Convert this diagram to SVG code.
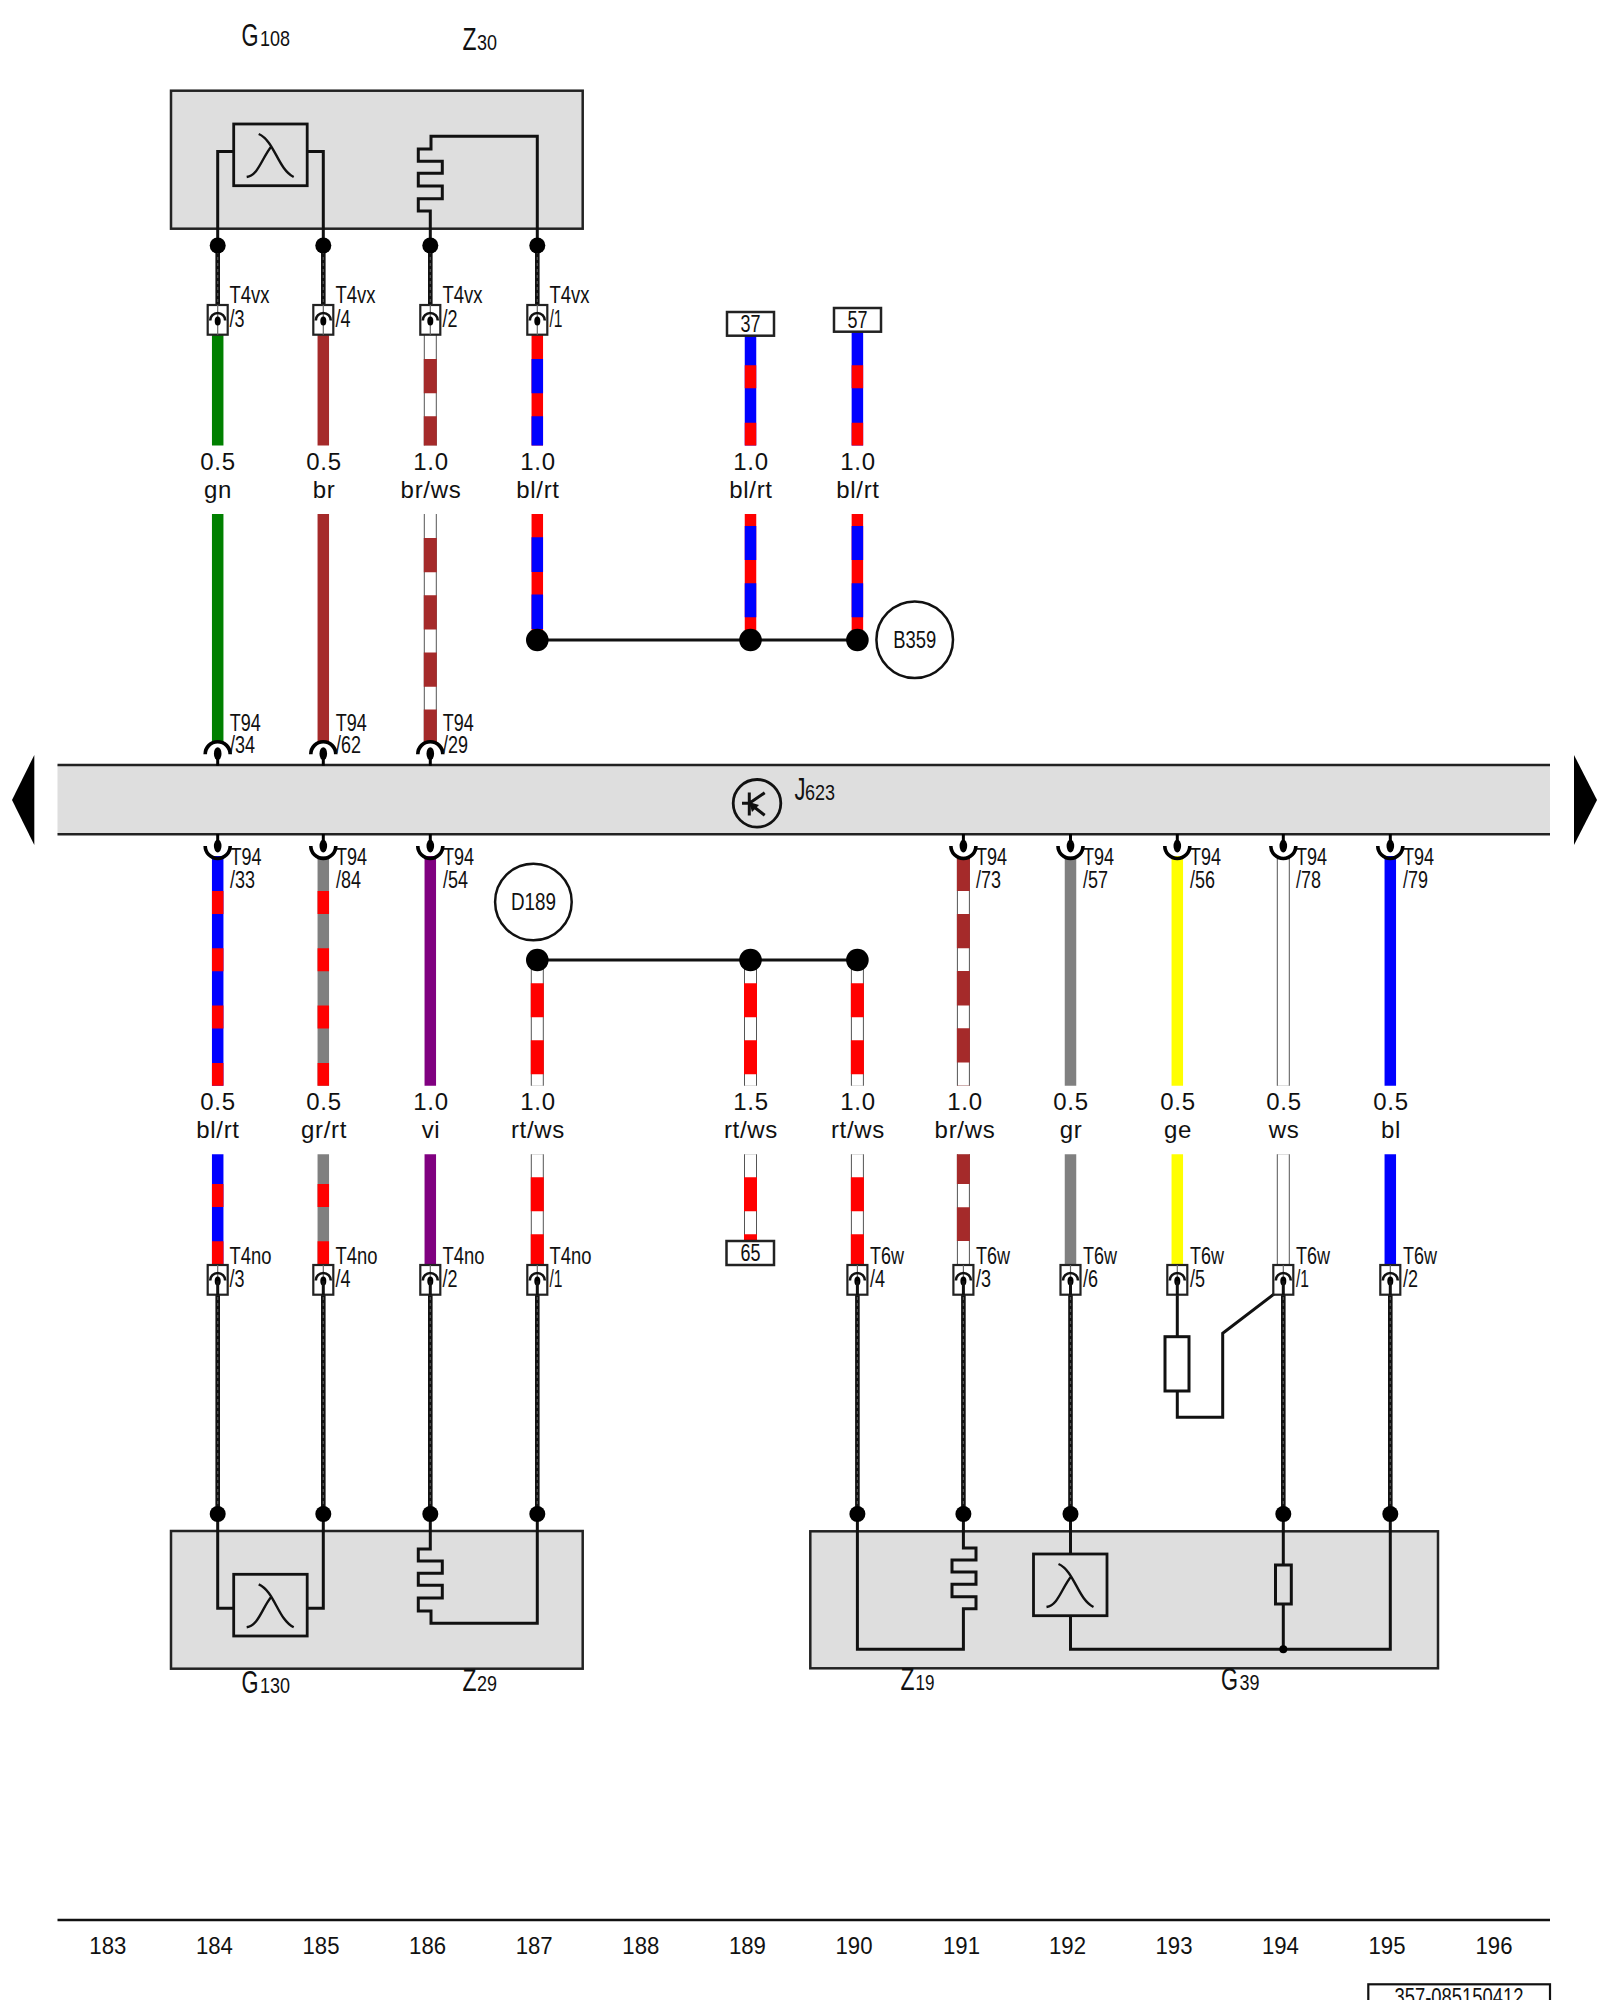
<svg xmlns="http://www.w3.org/2000/svg" xmlns:xlink="http://www.w3.org/1999/xlink" width="1600" height="2000" viewBox="0 0 1600 2000">
<style>
text{font-family:"Liberation Sans",Arial,sans-serif;fill:#111}
.c{text-anchor:middle}
.g{font-size:24px;letter-spacing:.7px}
.p{font-size:23px}
.n{font-size:23.5px}
.big{font-size:31px}
.sm{font-size:22px}
.box{fill:#dedede;stroke:#222;stroke-width:2.5}
.ln{fill:none;stroke:#111;stroke-width:3}
.tw{fill:none;stroke:#111;stroke-width:4.6}
.twx{fill:none;stroke:#555;stroke-width:1.2;stroke-dasharray:3 3}
.dot{fill:#000}
.w{fill:none;stroke-width:11.5}
.bd{fill:none;stroke:#555;stroke-width:13}
.wh{fill:none;stroke:#fff;stroke-width:11}
.wb{fill:none;stroke-width:13}
.r{stroke:#f00}.b{stroke:#00f}.gn{stroke:#008000}.br{stroke:#a52a2a}.gy{stroke:#808080}.vi{stroke:#800080}.ye{stroke:#ff0}
.lab{fill:#fff;stroke:#222;stroke-width:2.5}
.ring{fill:#fff;stroke:#111;stroke-width:2.5}
</style>
<defs>
<g id="conn">
<rect x="-10" y="0" width="20" height="29.7" fill="#fff" stroke="#222" stroke-width="2.2"/>
<path d="M0 0V29.7" stroke="#666" stroke-width="1.2" fill="none"/>
<path d="M-7.5 15.5A7.5 7.5 0 0 1 7.5 15.5" fill="none" stroke="#111" stroke-width="2.6"/>
<ellipse cx="0" cy="16" rx="3" ry="4.5" fill="#000"/>
</g>
<g id="sockTop">
<path d="M-12.5 12.5A12.5 12.5 0 0 1 12.5 12.5" fill="none" stroke="#000" stroke-width="3.6"/>
<ellipse cx="0" cy="12" rx="3.8" ry="6.5" fill="#000"/>
<path d="M0 14V24" stroke="#000" stroke-width="3"/>
</g>
<g id="sockBot">
<path d="M-12.5 -11A12.5 12.5 0 0 0 12.5 -11" fill="none" stroke="#000" stroke-width="3.6"/>
<ellipse cx="0" cy="-11" rx="3.8" ry="6.5" fill="#000"/>
<path d="M0 -14V-23" stroke="#000" stroke-width="3"/>
</g>
<g id="lambda">
<rect x="0" y="0" width="73.5" height="61.7" fill="none" stroke="#111" stroke-width="2.8"/>
<path d="M25 10C41 17 44 45 60 53M13 53C25 51 28 34 38 22" fill="none" stroke="#111" stroke-width="2.4"/>
</g>
</defs>

<rect width="1600" height="2000" fill="#fff"/>

<g id="connectors">
<path class="w gn" d="M217.7 334V445.6"/>
<path class="w br" d="M323.3 334V445.6"/>
<path class="bd" d="M430.3 334V445.6"/><path class="wh" d="M430.3 334V445.6"/><path class="wb br" stroke-dasharray="34.3 22.9" d="M430.3 359V445.6"/>
<path class="w r" d="M537.3 334V445.6"/><path class="w b" stroke-dasharray="34.3 22.9" d="M537.3 359V445.6"/>
<path class="w b" d="M750.5 335V445.6"/><path class="w r" stroke-dasharray="23 34.4" d="M750.5 365.3V445.6"/>
<path class="w b" d="M857.4 331V445.6"/><path class="w r" stroke-dasharray="23 34.4" d="M857.4 365.3V445.6"/>
<path class="w gn" d="M217.7 514V742"/>
<path class="w br" d="M323.3 514V742"/>
<path class="bd" d="M430.3 514V742"/><path class="wh" d="M430.3 514V742"/><path class="wb br" stroke-dasharray="34.3 22.9" d="M430.3 538V742"/>
<path class="w r" d="M537.3 514V640"/><path class="w b" stroke-dasharray="34.7 22.4" d="M537.3 537.3V640"/>
<path class="w r" d="M750.5 514V640"/><path class="w b" stroke-dasharray="34 23.3" d="M750.5 526V630"/>
<path class="w r" d="M857.4 514V640"/><path class="w b" stroke-dasharray="34 23.3" d="M857.4 526V630"/>
<path class="ln" d="M537.3 640H857.4"/>
<path class="w b" d="M217.7 856V1085.7"/><path class="w r" stroke-dasharray="23 34.3" d="M217.7 891V1085.7"/>
<path class="w gy" d="M323.3 856V1085.7"/><path class="w r" stroke-dasharray="23 34.3" d="M323.3 891V1085.7"/>
<path class="w vi" d="M430.3 856V1085.7"/>
<path class="bd" d="M537.3 960V1085.7"/><path class="wh" d="M537.3 960V1085.7"/><path class="wb r" stroke-dasharray="34 23" d="M537.3 983.3V1085.7"/>
<path class="bd" d="M750.5 960V1085.7"/><path class="wh" d="M750.5 960V1085.7"/><path class="wb r" stroke-dasharray="34 23" d="M750.5 983.3V1085.7"/>
<path class="bd" d="M857.4 960V1085.7"/><path class="wh" d="M857.4 960V1085.7"/><path class="wb r" stroke-dasharray="34 23" d="M857.4 983.3V1085.7"/>
<path class="bd" d="M963.4 856V1085.7"/><path class="wh" d="M963.4 856V1085.7"/><path class="wb br" stroke-dasharray="34.3 22.9" d="M963.4 856.7V1085.7"/>
<path class="w gy" d="M1070.5 856V1085.7"/>
<path class="w ye" d="M1177.3 856V1085.7"/>
<path class="bd" d="M1283.3 856V1085.7"/><path class="wh" d="M1283.3 856V1085.7"/>
<path class="w b" d="M1390.3 856V1085.7"/>
<path class="ln" d="M537.3 960H857.4"/>
<path class="w b" d="M217.7 1154.3V1265"/><path class="w r" stroke-dasharray="23 34.3" d="M217.7 1184V1265"/>
<path class="w gy" d="M323.3 1154.3V1265"/><path class="w r" stroke-dasharray="23 34.3" d="M323.3 1184V1265"/>
<path class="w vi" d="M430.3 1154.3V1265"/>
<path class="bd" d="M537.3 1154.3V1265"/><path class="wh" d="M537.3 1154.3V1265"/><path class="wb r" stroke-dasharray="34 23" d="M537.3 1177.3V1265"/>
<path class="bd" d="M750.5 1154.3V1241"/><path class="wh" d="M750.5 1154.3V1241"/><path class="wb r" stroke-dasharray="34 23" d="M750.5 1177.3V1241"/>
<path class="bd" d="M857.4 1154.3V1265"/><path class="wh" d="M857.4 1154.3V1265"/><path class="wb r" stroke-dasharray="34 23" d="M857.4 1177.3V1265"/>
<path class="bd" d="M963.4 1154.3V1265"/><path class="wh" d="M963.4 1154.3V1265"/><path class="wb br" stroke-dasharray="29.7 23.3 33.7 100" d="M963.4 1154.3V1265"/>
<path class="w gy" d="M1070.5 1154.3V1265"/>
<path class="w ye" d="M1177.3 1154.3V1265"/>
<path class="bd" d="M1283.3 1154.3V1265"/><path class="wh" d="M1283.3 1154.3V1265"/>
<path class="w b" d="M1390.3 1154.3V1265"/>
<path class="tw" d="M217.7 245V314M323.3 245V314M430.3 245V314M537.3 245V314"/>
<path class="twx" d="M217.7 245V305M323.3 245V305M430.3 245V305M537.3 245V305"/>
<path class="tw" d="M217.7 1285V1514M323.3 1285V1514M430.3 1285V1514M537.3 1285V1514M857.4 1285V1514M963.4 1285V1514M1070.5 1285V1514M1283.3 1285V1514M1390.3 1285V1514"/>
<path class="twx" d="M217.7 1297V1505M323.3 1297V1505M430.3 1297V1505M537.3 1297V1505M857.4 1297V1505M963.4 1297V1505M1070.5 1297V1505M1283.3 1297V1505M1390.3 1297V1505"/>
<path class="ln" d="M1177.3 1285V1336.7M1177.3 1391V1417.3H1222.7V1333.3L1275.7 1292.7"/>
</g>

<g id="arrow-left"><path d="M34.3 755L12 800L34.3 845Z" fill="#000"/></g>
<g id="arrow-right"><path d="M1574 755L1597 800L1574 845Z" fill="#000"/></g>

<g id="J623">
<rect x="57.5" y="765" width="1492.5" height="69.3" fill="#dedede" stroke="none"/>
<path d="M57.5 765H1550M57.5 834.3H1550" stroke="#222" stroke-width="2.5" fill="none"/>
<circle cx="757" cy="803.3" r="23.8" fill="none" stroke="#111" stroke-width="2.8"/>
<path d="M749.3 792.5V815.5M742 803.3H749.3L764.7 792.7M749.3 803.3L764.7 815.3" fill="none" stroke="#111" stroke-width="3"/>
<path d="M749 802L759 805L752 812Z" fill="#111"/>
<text x="794.5" y="800"><tspan class="big" x="794.5" textLength="11" lengthAdjust="spacingAndGlyphs">J</tspan><tspan class="sm" x="805" textLength="30" lengthAdjust="spacingAndGlyphs">623</tspan></text>
</g>

<g id="G108-Z30">
<rect class="box" x="171" y="90.7" width="411.7" height="138"/>
<use xlink:href="#lambda" href="#lambda" x="233.7" y="124"/>
<path class="ln" d="M233.7 151.5H217.7V245M308 151.5H323.3V245"/>
<path class="ln" d="M430.3 245V211H418.3V198.7H442.3V186H418.3V173.3H442.3V161.3H418.3V149H431V136.3H537.3V245"/>
<text x="241.5" y="45.5"><tspan class="big" x="241.5" textLength="17" lengthAdjust="spacingAndGlyphs">G</tspan><tspan class="sm" x="260" textLength="30" lengthAdjust="spacingAndGlyphs">108</tspan></text>
<text x="462.5" y="50"><tspan class="big" x="462.5" textLength="14" lengthAdjust="spacingAndGlyphs">Z</tspan><tspan class="sm" x="477" textLength="20" lengthAdjust="spacingAndGlyphs">30</tspan></text>
</g>

<g id="G130-Z29">
<rect class="box" x="171" y="1531" width="411.7" height="137.7"/>
<use xlink:href="#lambda" href="#lambda" x="233.7" y="1574.3"/>
<path class="ln" d="M217.7 1514V1608.3H233.7M323.3 1514V1608.3H308"/>
<path class="ln" d="M430.3 1514V1549H418.3V1561H442.3V1573.3H418.3V1585.3H442.3V1598H418.3V1611H431V1623.3H537.3V1514"/>
<text x="241.5" y="1693"><tspan class="big" x="241.5" textLength="17" lengthAdjust="spacingAndGlyphs">G</tspan><tspan class="sm" x="260" textLength="30" lengthAdjust="spacingAndGlyphs">130</tspan></text>
<text x="462.5" y="1690.5"><tspan class="big" x="462.5" textLength="14" lengthAdjust="spacingAndGlyphs">Z</tspan><tspan class="sm" x="477" textLength="20" lengthAdjust="spacingAndGlyphs">29</tspan></text>
</g>

<g id="Z19-G39">
<rect class="box" x="810.3" y="1531.3" width="627.7" height="137"/>
<use xlink:href="#lambda" href="#lambda" x="1033.5" y="1554"/>
<path class="ln" d="M857.4 1514V1649.3H963.4V1608.7H976V1596.7H952V1584.3H976V1572H952V1560H976V1548H963.4V1514"/>
<path class="ln" d="M1070.5 1514V1554M1070.5 1616V1649.3H1390.3V1514"/>
<path class="ln" d="M1283.3 1514V1565M1283.3 1604V1649.3"/>
<rect x="1275.5" y="1565" width="15.8" height="39" fill="none" stroke="#111" stroke-width="3"/>
<circle class="dot" cx="1283.3" cy="1649.3" r="4"/>
<text x="900.5" y="1690"><tspan class="big" x="900.5" textLength="14" lengthAdjust="spacingAndGlyphs">Z</tspan><tspan class="sm" x="915.5" textLength="19" lengthAdjust="spacingAndGlyphs">19</tspan></text>
<text x="1221" y="1690"><tspan class="big" x="1221" textLength="17" lengthAdjust="spacingAndGlyphs">G</tspan><tspan class="sm" x="1239.5" textLength="20" lengthAdjust="spacingAndGlyphs">39</tspan></text>
</g>

<g id="dots">
<circle class="dot" cx="217.7" cy="245.5" r="8"/><circle class="dot" cx="323.3" cy="245.5" r="8"/><circle class="dot" cx="430.3" cy="245.5" r="8"/><circle class="dot" cx="537.3" cy="245.5" r="8"/>
<circle class="dot" cx="217.7" cy="1514" r="8"/><circle class="dot" cx="323.3" cy="1514" r="8"/><circle class="dot" cx="430.3" cy="1514" r="8"/><circle class="dot" cx="537.3" cy="1514" r="8"/>
<circle class="dot" cx="857.4" cy="1514" r="8"/><circle class="dot" cx="963.4" cy="1514" r="8"/><circle class="dot" cx="1070.5" cy="1514" r="8"/><circle class="dot" cx="1283.3" cy="1514" r="8"/><circle class="dot" cx="1390.3" cy="1514" r="8"/>
<circle class="dot" cx="537.3" cy="640" r="11.3"/><circle class="dot" cx="750.5" cy="640" r="11.3"/><circle class="dot" cx="857.4" cy="640" r="11.3"/>
<circle class="dot" cx="537.3" cy="960" r="11.3"/><circle class="dot" cx="750.5" cy="960" r="11.3"/><circle class="dot" cx="857.4" cy="960" r="11.3"/>
</g>

<g id="B359"><circle class="ring" cx="914.7" cy="639.7" r="38.3"/><text class="p c" x="914.7" y="647.5" textLength="43" lengthAdjust="spacingAndGlyphs">B359</text></g>
<g id="D189"><circle class="ring" cx="533.4" cy="902" r="38.3"/><text class="p c" x="533.4" y="910" textLength="45" lengthAdjust="spacingAndGlyphs">D189</text></g>

<g id="tag-37"><rect class="lab" x="727" y="312" width="47" height="23.7"/><text class="p c" x="750.5" y="331.5" textLength="20" lengthAdjust="spacingAndGlyphs">37</text></g>
<g id="tag-57"><rect class="lab" x="834" y="308" width="47" height="23.7"/><text class="p c" x="857.5" y="327.5" textLength="20" lengthAdjust="spacingAndGlyphs">57</text></g>
<g id="tag-65"><rect class="lab" x="726.5" y="1241" width="47.5" height="24"/><text class="p c" x="750.5" y="1260.5" textLength="20" lengthAdjust="spacingAndGlyphs">65</text></g>

<g id="terminals-T4vx">
<use href="#conn" x="217.7" y="305"/><use href="#conn" x="323.3" y="305"/><use href="#conn" x="430.3" y="305"/><use href="#conn" x="537.3" y="305"/>
<g class="p">
<text x="229.5" y="303" textLength="40" lengthAdjust="spacingAndGlyphs">T4vx</text><text x="229.5" y="326.7" textLength="15" lengthAdjust="spacingAndGlyphs">/3</text>
<text x="335.5" y="303" textLength="40" lengthAdjust="spacingAndGlyphs">T4vx</text><text x="335.5" y="326.7" textLength="15" lengthAdjust="spacingAndGlyphs">/4</text>
<text x="442.5" y="303" textLength="40" lengthAdjust="spacingAndGlyphs">T4vx</text><text x="442.5" y="326.7" textLength="15" lengthAdjust="spacingAndGlyphs">/2</text>
<text x="549.5" y="303" textLength="40" lengthAdjust="spacingAndGlyphs">T4vx</text><text x="549.5" y="326.7" textLength="13" lengthAdjust="spacingAndGlyphs">/1</text>
</g>
</g>

<g id="terminals-T94-top">
<use href="#sockTop" x="217.7" y="741.7"/><use href="#sockTop" x="323.3" y="741.7"/><use href="#sockTop" x="430.3" y="741.7"/>
<g class="p">
<text x="229.7" y="730.7" textLength="31" lengthAdjust="spacingAndGlyphs">T94</text><text x="230" y="753.3" textLength="25" lengthAdjust="spacingAndGlyphs">/34</text>
<text x="335.7" y="730.7" textLength="31" lengthAdjust="spacingAndGlyphs">T94</text><text x="336" y="753.3" textLength="25" lengthAdjust="spacingAndGlyphs">/62</text>
<text x="442.7" y="730.7" textLength="31" lengthAdjust="spacingAndGlyphs">T94</text><text x="443" y="753.3" textLength="25" lengthAdjust="spacingAndGlyphs">/29</text>
</g>
</g>

<g id="terminals-T94-bottom">
<use href="#sockBot" x="217.7" y="857"/><use href="#sockBot" x="323.3" y="857"/><use href="#sockBot" x="430.3" y="857"/>
<use href="#sockBot" x="963.4" y="857"/><use href="#sockBot" x="1070.5" y="857"/><use href="#sockBot" x="1177.3" y="857"/><use href="#sockBot" x="1283.3" y="857"/><use href="#sockBot" x="1390.3" y="857"/>
<g class="p">
<text x="230.5" y="865" textLength="31" lengthAdjust="spacingAndGlyphs">T94</text><text x="230" y="887.5" textLength="25" lengthAdjust="spacingAndGlyphs">/33</text>
<text x="336" y="865" textLength="31" lengthAdjust="spacingAndGlyphs">T94</text><text x="336" y="887.5" textLength="25" lengthAdjust="spacingAndGlyphs">/84</text>
<text x="443" y="865" textLength="31" lengthAdjust="spacingAndGlyphs">T94</text><text x="443" y="887.5" textLength="25" lengthAdjust="spacingAndGlyphs">/54</text>
<text x="976" y="865" textLength="31" lengthAdjust="spacingAndGlyphs">T94</text><text x="976" y="887.5" textLength="25" lengthAdjust="spacingAndGlyphs">/73</text>
<text x="1083" y="865" textLength="31" lengthAdjust="spacingAndGlyphs">T94</text><text x="1083" y="887.5" textLength="25" lengthAdjust="spacingAndGlyphs">/57</text>
<text x="1190" y="865" textLength="31" lengthAdjust="spacingAndGlyphs">T94</text><text x="1190" y="887.5" textLength="25" lengthAdjust="spacingAndGlyphs">/56</text>
<text x="1296" y="865" textLength="31" lengthAdjust="spacingAndGlyphs">T94</text><text x="1296" y="887.5" textLength="25" lengthAdjust="spacingAndGlyphs">/78</text>
<text x="1403" y="865" textLength="31" lengthAdjust="spacingAndGlyphs">T94</text><text x="1403" y="887.5" textLength="25" lengthAdjust="spacingAndGlyphs">/79</text>
</g>
</g>

<g id="terminals-T4no-T6w">
<use href="#conn" x="217.7" y="1265"/><use href="#conn" x="323.3" y="1265"/><use href="#conn" x="430.3" y="1265"/><use href="#conn" x="537.3" y="1265"/>
<use href="#conn" x="857.4" y="1265"/><use href="#conn" x="963.4" y="1265"/><use href="#conn" x="1070.5" y="1265"/><use href="#conn" x="1177.3" y="1265"/><use href="#conn" x="1283.3" y="1265"/><use href="#conn" x="1390.3" y="1265"/>
<path class="tw" d="M217.7 1281V1295M323.3 1281V1295M430.3 1281V1295M537.3 1281V1295M857.4 1281V1295M963.4 1281V1295M1070.5 1281V1295M1283.3 1281V1295M1390.3 1281V1295" style="stroke-width:3"/>
<path class="ln" d="M1177.3 1281V1295"/>
<g class="p">
<text x="229.5" y="1263.5" textLength="42" lengthAdjust="spacingAndGlyphs">T4no</text><text x="229.5" y="1286.7" textLength="15" lengthAdjust="spacingAndGlyphs">/3</text>
<text x="335.5" y="1263.5" textLength="42" lengthAdjust="spacingAndGlyphs">T4no</text><text x="335.5" y="1286.7" textLength="15" lengthAdjust="spacingAndGlyphs">/4</text>
<text x="442.5" y="1263.5" textLength="42" lengthAdjust="spacingAndGlyphs">T4no</text><text x="442.5" y="1286.7" textLength="15" lengthAdjust="spacingAndGlyphs">/2</text>
<text x="549.5" y="1263.5" textLength="42" lengthAdjust="spacingAndGlyphs">T4no</text><text x="549.5" y="1286.7" textLength="13" lengthAdjust="spacingAndGlyphs">/1</text>
<text x="870" y="1263.5" textLength="34" lengthAdjust="spacingAndGlyphs">T6w</text><text x="870" y="1286.7" textLength="15" lengthAdjust="spacingAndGlyphs">/4</text>
<text x="976" y="1263.5" textLength="34" lengthAdjust="spacingAndGlyphs">T6w</text><text x="976" y="1286.7" textLength="15" lengthAdjust="spacingAndGlyphs">/3</text>
<text x="1083" y="1263.5" textLength="34" lengthAdjust="spacingAndGlyphs">T6w</text><text x="1083" y="1286.7" textLength="15" lengthAdjust="spacingAndGlyphs">/6</text>
<text x="1190" y="1263.5" textLength="34" lengthAdjust="spacingAndGlyphs">T6w</text><text x="1190" y="1286.7" textLength="15" lengthAdjust="spacingAndGlyphs">/5</text>
<text x="1296" y="1263.5" textLength="34" lengthAdjust="spacingAndGlyphs">T6w</text><text x="1296" y="1286.7" textLength="13" lengthAdjust="spacingAndGlyphs">/1</text>
<text x="1403" y="1263.5" textLength="34" lengthAdjust="spacingAndGlyphs">T6w</text><text x="1403" y="1286.7" textLength="15" lengthAdjust="spacingAndGlyphs">/2</text>
</g>
</g>
<rect id="resistor-193" x="1165" y="1336.7" width="24" height="54.3" fill="#fff" stroke="#111" stroke-width="3"/>

<g id="wire-labels" class="g">
<text class="c" x="218" y="469.5">0.5</text><text class="c" x="218" y="497.5">gn</text>
<text class="c" x="324" y="469.5">0.5</text><text class="c" x="324" y="497.5">br</text>
<text class="c" x="431" y="469.5">1.0</text><text class="c" x="431" y="497.5">br/ws</text>
<text class="c" x="538" y="469.5">1.0</text><text class="c" x="538" y="497.5">bl/rt</text>
<text class="c" x="751" y="469.5">1.0</text><text class="c" x="751" y="497.5">bl/rt</text>
<text class="c" x="858" y="469.5">1.0</text><text class="c" x="858" y="497.5">bl/rt</text>
<text class="c" x="218" y="1109.5">0.5</text><text class="c" x="218" y="1137.5">bl/rt</text>
<text class="c" x="324" y="1109.5">0.5</text><text class="c" x="324" y="1137.5">gr/rt</text>
<text class="c" x="431" y="1109.5">1.0</text><text class="c" x="431" y="1137.5">vi</text>
<text class="c" x="538" y="1109.5">1.0</text><text class="c" x="538" y="1137.5">rt/ws</text>
<text class="c" x="751" y="1109.5">1.5</text><text class="c" x="751" y="1137.5">rt/ws</text>
<text class="c" x="858" y="1109.5">1.0</text><text class="c" x="858" y="1137.5">rt/ws</text>
<text class="c" x="965" y="1109.5">1.0</text><text class="c" x="965" y="1137.5">br/ws</text>
<text class="c" x="1071" y="1109.5">0.5</text><text class="c" x="1071" y="1137.5">gr</text>
<text class="c" x="1178" y="1109.5">0.5</text><text class="c" x="1178" y="1137.5">ge</text>
<text class="c" x="1284" y="1109.5">0.5</text><text class="c" x="1284" y="1137.5">ws</text>
<text class="c" x="1391" y="1109.5">0.5</text><text class="c" x="1391" y="1137.5">bl</text>
</g>

<g id="ruler">
<path d="M57.5 1920H1550" stroke="#111" stroke-width="2.5" fill="none"/>
<g class="n">
<text class="c" x="107.8" y="1954.3" textLength="37" lengthAdjust="spacingAndGlyphs">183</text>
<text class="c" x="214.4" y="1954.3" textLength="37" lengthAdjust="spacingAndGlyphs">184</text>
<text class="c" x="321" y="1954.3" textLength="37" lengthAdjust="spacingAndGlyphs">185</text>
<text class="c" x="427.6" y="1954.3" textLength="37" lengthAdjust="spacingAndGlyphs">186</text>
<text class="c" x="534.2" y="1954.3" textLength="37" lengthAdjust="spacingAndGlyphs">187</text>
<text class="c" x="640.8" y="1954.3" textLength="37" lengthAdjust="spacingAndGlyphs">188</text>
<text class="c" x="747.4" y="1954.3" textLength="37" lengthAdjust="spacingAndGlyphs">189</text>
<text class="c" x="854" y="1954.3" textLength="37" lengthAdjust="spacingAndGlyphs">190</text>
<text class="c" x="961.5" y="1954.3" textLength="37" lengthAdjust="spacingAndGlyphs">191</text>
<text class="c" x="1067.5" y="1954.3" textLength="37" lengthAdjust="spacingAndGlyphs">192</text>
<text class="c" x="1174" y="1954.3" textLength="37" lengthAdjust="spacingAndGlyphs">193</text>
<text class="c" x="1280.4" y="1954.3" textLength="37" lengthAdjust="spacingAndGlyphs">194</text>
<text class="c" x="1387" y="1954.3" textLength="37" lengthAdjust="spacingAndGlyphs">195</text>
<text class="c" x="1494" y="1954.3" textLength="37" lengthAdjust="spacingAndGlyphs">196</text>
</g>
<rect x="1368.3" y="1984.3" width="181.7" height="30" fill="none" stroke="#111" stroke-width="2.2"/>
<text class="n c" x="1459" y="2005" textLength="129" lengthAdjust="spacingAndGlyphs">357-085150412</text>
</g>
</svg>
